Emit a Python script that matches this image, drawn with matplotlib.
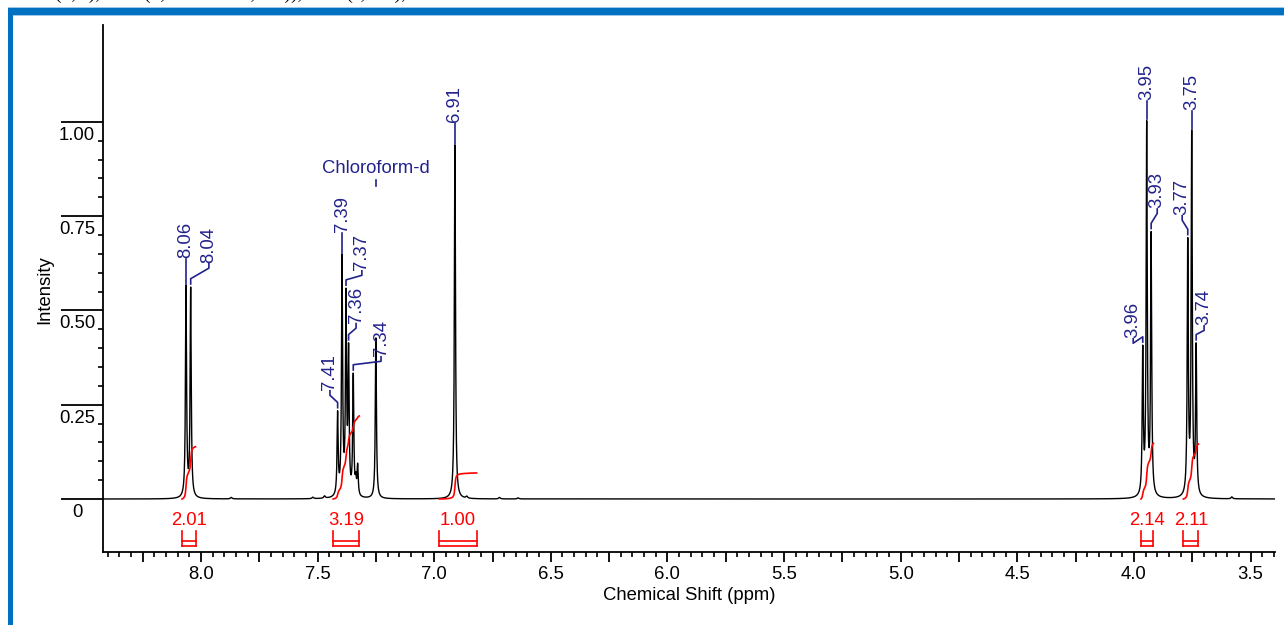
import numpy as np
import matplotlib
matplotlib.use("Agg")
import matplotlib.pyplot as plt
from matplotlib.patches import Rectangle
from matplotlib.ticker import FixedLocator, FuncFormatter
import matplotlib.transforms as mtransforms

plt.rcParams['font.family'] = ['Liberation Sans', 'DejaVu Sans']

# ---------------- data ----------------
peak_ppm = [8.064, 8.044, 7.414, 7.395, 7.378, 7.367, 7.347, 7.336, 7.328,
            7.250, 6.911, 3.962, 3.945, 3.926, 3.769, 3.752, 3.733]
peak_height = [0.567, 0.562, 0.234, 0.649, 0.559, 0.414, 0.334, 0.072, 0.095,
               0.427, 0.938, 0.408, 1.003, 0.709, 0.693, 0.978, 0.414]
minor_ppm = [7.87, 7.52, 7.47, 6.86, 6.72, 6.64, 3.58]
minor_height = [0.004, 0.004, 0.006, 0.005, 0.004, 0.003, 0.005]

label_text = ["8.06", "8.04", "7.41", "7.39", "7.37", "7.36", "7.34",
              "6.91", "3.96", "3.95", "3.93", "3.77", "3.75", "3.74"]
label_peak_ppm = [8.064, 8.044, 7.414, 7.395, 7.378, 7.367, 7.347,
                  6.911, 3.962, 3.945, 3.926, 3.769, 3.752, 3.733]
label_peak_h = [0.567, 0.562, 0.234, 0.649, 0.559, 0.414, 0.334,
                0.938, 0.408, 1.003, 0.709, 0.693, 0.978, 0.414]
label_pos_ppm = [8.064, 7.966, 7.447, 7.395, 7.310, 7.335, 7.228,
                 6.911, 4.003, 3.945, 3.900, 3.793, 3.752, 3.699]
label_pos_y = [0.639, 0.626, 0.289, 0.708, 0.607, 0.467, 0.379,
               1.000, 0.427, 1.058, 0.771, 0.753, 1.031, 0.461]

integral_from = [8.081, 7.433, 6.978, 3.970, 3.788]
integral_to = [8.023, 7.321, 6.818, 3.916, 3.723]
integral_value = [2.01, 3.19, 1.00, 2.14, 2.11]
integral_scale = 0.069

solvent_ppm = 7.250
solvent_label = "Chloroform-d"

ytick_values = [0, 0.25, 0.50, 0.75, 1.00]
ytick_labels = ["0", "0.25", "0.50", "0.75", "1.00"]
xtick_values = [8.0, 7.5, 7.0, 6.5, 6.0, 5.5, 5.0, 4.5, 4.0, 3.5]
xtick_labels = ["8.0", "7.5", "7.0", "6.5", "6.0", "5.5", "5.0", "4.5", "4.0", "3.5"]

header_text = "(d, J), 7.39 (d, J = 8.8 Hz, 2H)), 6.91 (s, 1H),"

# ---------------- spectrum ----------------
hw = 0.0028
x = np.arange(3.38, 8.44, 0.00025)

def lor(d):
    return hw**2 / (d**2 + hw**2)

pp = np.array(peak_ppm)
M = lor(pp[:, None] - pp[None, :])
amps = np.linalg.solve(M, np.array(peak_height))
y = np.zeros_like(x)
for p, a in zip(pp, amps):
    y += a * lor(x - p)
for p, h in zip(minor_ppm, minor_height):
    y += h * (0.004**2) / ((x - p)**2 + 0.004**2)

# ---------------- figure ----------------
W, H = 1284, 625
FS = 13.3
fig = plt.figure(figsize=(W / 100, H / 100), dpi=100)
fig.patch.set_facecolor('white')

def fx(px):
    return px / W

def fy(py):
    return 1 - py / H

# blue frame
fig.patches.append(Rectangle((fx(8), fy(15)), 1, 7 / H, transform=fig.transFigure,
                             facecolor='#0070C0', edgecolor='none', zorder=0))
fig.patches.append(Rectangle((fx(8), 0), 5 / W, fy(8), transform=fig.transFigure,
                             facecolor='#0070C0', edgecolor='none', zorder=0))
fig.patches.append(Rectangle((fx(13), fy(16)), 1, 1 / H, transform=fig.transFigure,
                             facecolor='#9CC7EA', edgecolor='none', zorder=0))
fig.patches.append(Rectangle((fx(8), fy(8)), 1, 1 / H, transform=fig.transFigure,
                             facecolor='#9CC7EA', edgecolor='none', zorder=0))

# clipped text line above the frame (only descenders visible, as in reference)
fig.text(fx(55), 1.0 + 1 / H, header_text,
         family='Liberation Serif', fontsize=14, va='baseline', ha='left', color='black')

ax = fig.add_axes([fx(103), 1 - 552 / H, (1275 - 103) / W, (552 - 25) / H])
ax.set_xlim(8.420, 3.395)
ax.set_ylim(-0.1405, 1.2566)

for s in ['top', 'right']:
    ax.spines[s].set_visible(False)
for s in ['left', 'bottom']:
    ax.spines[s].set_linewidth(1.3)

ax.plot(x, y, color='black', lw=1.0, zorder=3)

# integrals
for a, b, v in zip(integral_from, integral_to, integral_value):
    lo, hi = min(a, b), max(a, b)
    m = (x >= lo) & (x <= hi)
    xs = x[m][::-1]
    ys = y[m][::-1]
    cum = np.concatenate([[0], np.cumsum(0.5 * (ys[1:] + ys[:-1]))])
    cum = cum / cum[-1] * v * integral_scale
    ax.plot(xs, cum, color='red', lw=1.2, zorder=4)
    # bracket
    ax.plot([hi, hi], [-0.085, -0.125], color='red', lw=1.2)
    ax.plot([lo, lo], [-0.085, -0.125], color='red', lw=1.2)
    ax.plot([hi, lo], [-0.111, -0.111], color='red', lw=1.2)
    ax.plot([hi, lo], [-0.125, -0.125], color='red', lw=1.2)
    ax.text((lo + hi) / 2, -0.056, f"{v:.2f}", color='red', fontsize=FS,
            ha='center', va='center')

# peak labels
navy = '#22228C'
for t, px_, ph, lx, ly in zip(label_text, label_peak_ppm, label_peak_h,
                              label_pos_ppm, label_pos_y):
    if abs(lx - px_) < 0.002:
        ax.plot([px_, px_], [ph + 0.004, ly - 0.002], color=navy, lw=1.2, zorder=5)
    else:
        ya = ph + 0.022
        yb = ly - 0.014
        ax.plot([px_, px_, lx, lx], [ph + 0.008, ya, yb, ly - 0.002],
                color=navy, lw=1.2, zorder=5)
    ax.text(lx, ly, t, rotation=90, ha='center', va='bottom', fontsize=FS,
            color=navy, zorder=6)

ax.text(solvent_ppm, 0.877, solvent_label, ha='center', va='center',
        fontsize=FS, color=navy)
ax.plot([solvent_ppm, solvent_ppm], [0.846, 0.830], color=navy, lw=1.2)

# y axis ticks
ax.yaxis.set_major_locator(FixedLocator(ytick_values))
ax.yaxis.set_major_formatter(FuncFormatter(lambda v, p: ""))
minor_y = [round(0.05 * i, 2) for i in range(1, 20) if i % 5 != 0]
ax.yaxis.set_minor_locator(FixedLocator(minor_y))
ax.tick_params(axis='y', which='major', length=30, width=1.3, direction='out')
ax.tick_params(axis='y', which='minor', length=3.8, width=1.2, direction='out')
trans_y = mtransforms.blended_transform_factory(fig.transFigure, ax.transData)
trans_y = trans_y + mtransforms.ScaledTranslation(0, -3.5 / 72, fig.dpi_scale_trans)
for v, t in zip(ytick_values, ytick_labels):
    ax.text(fx(77), v, t, transform=trans_y, ha='center', va='top', fontsize=FS,
            clip_on=False)

# x axis ticks
xmaj = [round(8.25 - 0.25 * i, 2) for i in range(20)]
ax.xaxis.set_major_locator(FixedLocator(xmaj))
lab_map = {round(v, 2): t for v, t in zip(xtick_values, xtick_labels)}
ax.xaxis.set_major_formatter(FuncFormatter(lambda v, p: lab_map.get(round(v, 2), "")))
xmin = [round(8.40 - 0.05 * i, 2) for i in range(101)]
xmin = [v for v in xmin if round(v / 0.25, 6) % 1 != 0 and v > 3.39]
ax.xaxis.set_minor_locator(FixedLocator(xmin))
ax.tick_params(axis='x', which='major', length=7, width=1.3, direction='out',
               labelsize=FS, pad=3)
ax.tick_params(axis='x', which='minor', length=3.8, width=1.2, direction='out')

ax.set_xlabel("Chemical Shift (ppm)", fontsize=FS, labelpad=3)
fig.text(fx(45), fy(290), "Intensity", rotation=90, ha='center', va='center',
         fontsize=FS)

fig.savefig("out.png", dpi=100)
